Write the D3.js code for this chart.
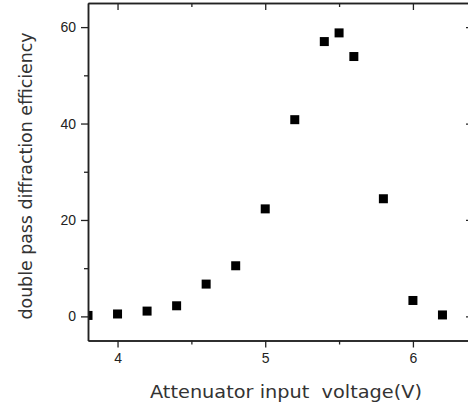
<!DOCTYPE html>
<html>
<head>
<meta charset="utf-8">
<script src="https://cdn.jsdelivr.net/npm/d3@7"></script>
<style>
  body { margin: 0; background: #fff; overflow: hidden; }
  svg { display: block; }
  .tick text { font-family: "Liberation Sans", Arial, sans-serif; font-size: 14px; fill: #222; }
  .title { font-family: "DejaVu Sans", Verdana, sans-serif; font-size: 17px; fill: #333; white-space: pre; }
</style>
</head>
<body>
<svg width="468" height="410"></svg>
<script>
// attenuator voltage (V) vs diffraction efficiency
var voltage = [3.8, 4.0, 4.2, 4.4, 4.6, 4.8, 5.0, 5.2, 5.4, 5.5, 5.6, 5.8, 6.0, 6.2];
var efficiency = [0.2, 0.5, 1.1, 2.2, 6.7, 10.5, 22.3, 40.8, 57.0, 58.8, 53.9, 24.4, 3.3, 0.3];

var xTicks = [4, 5, 6];
var xMinor = [4.5, 5.5];
var yTicks = [0, 20, 40, 60];
var yMinor = [10, 30, 50];

var margin = {left: 88, top: 3, right: 472, bottom: 340.5};

var svg = d3.select("svg");

var x = d3.scaleLinear().domain([3.8, 6.4]).range([margin.left, margin.right]);
var y = d3.scaleLinear().domain([-5, 65]).range([margin.bottom, margin.top]);

var plot = svg.append("g");

// clip so the first point gets cut at the frame like in the original
svg.append("clipPath").attr("id", "clip")
    .append("rect")
    .attr("x", margin.left).attr("y", margin.top)
    .attr("width", margin.right - margin.left).attr("height", margin.bottom - margin.top);

plot.append("g").attr("clip-path", "url(#clip)")
    .selectAll("rect")
    .data(voltage)
    .enter().append("rect")
    .attr("x", function(d) { return x(d) - 4.5; })
    .attr("y", function(d, i) { return y(efficiency[i]) - 4.5; })
    .attr("width", 9)
    .attr("height", 9)
    .attr("fill", "#000");

function styleAxis(g) {
    g.selectAll(".domain").attr("stroke", "#222").attr("stroke-width", 1.5);
    g.selectAll(".tick line").attr("stroke", "#222").attr("stroke-width", 1.3);
}

// bottom
svg.append("g").attr("transform", "translate(0," + margin.bottom + ")")
    .call(d3.axisBottom(x).tickValues(xTicks).tickFormat(d3.format("d")).tickSize(7).tickSizeOuter(0).tickPadding(6))
    .call(styleAxis);
svg.append("g").attr("transform", "translate(0," + margin.bottom + ")")
    .call(d3.axisBottom(x).tickValues(xMinor).tickFormat("").tickSize(4).tickSizeOuter(0))
    .call(styleAxis);

// left
svg.append("g").attr("transform", "translate(" + margin.left + ",0)")
    .call(d3.axisLeft(y).tickValues(yTicks).tickFormat(d3.format("d")).tickSize(7).tickSizeOuter(0).tickPadding(5))
    .call(styleAxis);
svg.append("g").attr("transform", "translate(" + margin.left + ",0)")
    .call(d3.axisLeft(y).tickValues(yMinor).tickFormat("").tickSize(4).tickSizeOuter(0))
    .call(styleAxis);

// top (mirror, inward ticks)
svg.append("g").attr("transform", "translate(0," + margin.top + ")")
    .call(d3.axisTop(x).tickValues(xTicks).tickFormat("").tickSize(-7).tickSizeOuter(0))
    .call(styleAxis);
svg.append("g").attr("transform", "translate(0," + margin.top + ")")
    .call(d3.axisTop(x).tickValues(xMinor).tickFormat("").tickSize(-4).tickSizeOuter(0))
    .call(styleAxis);

// right (mirror, inward ticks)
svg.append("g").attr("transform", "translate(" + margin.right + ",0)")
    .call(d3.axisRight(y).tickValues(yTicks).tickFormat("").tickSize(-6).tickSizeOuter(0))
    .call(styleAxis);
svg.append("g").attr("transform", "translate(" + margin.right + ",0)")
    .call(d3.axisRight(y).tickValues(yMinor).tickFormat("").tickSize(-4).tickSizeOuter(0))
    .call(styleAxis);

svg.append("text")
    .attr("class", "title")
    .attr("x", 286)
    .attr("y", 398)
    .attr("text-anchor", "middle")
    .attr("textLength", 272)
    .attr("lengthAdjust", "spacingAndGlyphs")
    .text("Attenuator input  voltage(V)");

svg.append("text")
    .attr("class", "title")
    .attr("transform", "translate(32,176) rotate(-90)")
    .attr("text-anchor", "middle")
    .attr("textLength", 287)
    .attr("lengthAdjust", "spacingAndGlyphs")
    .text("double pass diffraction efficiency");
</script>
</body>
</html>
